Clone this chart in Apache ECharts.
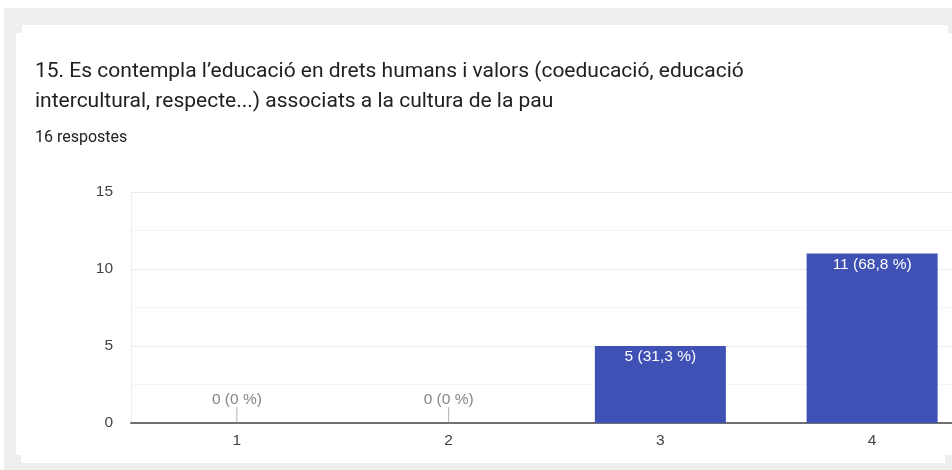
<!DOCTYPE html>
<html>
<head>
<meta charset="utf-8">
<script src="https://cdn.jsdelivr.net/npm/echarts@6/dist/echarts.min.js"></script>
<style>
  html, body { margin: 0; padding: 0; width: 952px; height: 470px; overflow: hidden; background: #ffffff; }
  .frame { position: absolute; left: 4px; top: 8px; right: 0; bottom: 0; background: #eeeeee; }
  .card { position: absolute; background: #ffffff; }
  #chart { position: absolute; left: 0; top: 0; width: 978px; height: 470px; }
</style>
</head>
<body>
<div class="frame"></div>
<div class="card" style="left:16px; top:33px; width:936px; height:422px;"></div>
<div class="card" style="left:22px; top:25px; width:926px; height:10px;"></div>
<div class="card" style="left:21px; top:453px; width:924px; height:10px;"></div>
<div id="chart"></div>
<script>
// Question text and response summary
const questionLines = [
  '15. Es contempla l\u2019educació en drets humans i valors (coeducació, educació',
  'intercultural, respecte...) associats a la cultura de la pau'
];
const responsesText = '16 respostes';

// Answer scale and counts
const categories = ['1', '2', '3', '4'];
const counts = [0, 0, 5, 11];
const percents = [0, 0, 31.3, 68.8];

// Y axis ticks
const yTicks = [0, 5, 10, 15];

const chartFont = 'Liberation Sans, Arial, sans-serif';

function pctText(p) {
  return (Number.isInteger(p) ? String(p) : p.toFixed(1).replace('.', ',')) + ' %';
}
function labelText(i) {
  return counts[i] + ' (' + pctText(percents[i]) + ')';
}

const chart = echarts.init(document.getElementById('chart'), null, { renderer: 'canvas' });

chart.setOption({
  backgroundColor: 'transparent',
  animation: false,
  textStyle: { fontFamily: chartFont },
  title: [
    {
      text: questionLines.join('\n'),
      left: 30,
      top: 52,
      textStyle: { fontFamily: 'Roboto', fontSize: 21, fontWeight: 'normal', color: '#202124', lineHeight: 29.5 }
    },
    {
      text: responsesText,
      left: 30,
      top: 124,
      textStyle: { fontFamily: 'Roboto', fontSize: 16, fontWeight: 'normal', color: '#202124', lineHeight: 18 }
    }
  ],
  grid: { left: 131, right: 0, top: 192, bottom: 47, containLabel: false },
  xAxis: {
    type: 'category',
    data: categories,
    axisLine: { show: true, lineStyle: { color: '#707070', width: 2 } },
    axisTick: { show: false },
    axisLabel: { color: '#444444', fontSize: 15.5, margin: 10, fontFamily: chartFont },
    splitLine: { show: false }
  },
  yAxis: {
    type: 'value',
    min: yTicks[0],
    max: yTicks[yTicks.length - 1],
    interval: yTicks[1] - yTicks[0],
    axisLine: { show: true, lineStyle: { color: '#eeeeee', width: 1 } },
    axisTick: { show: false },
    axisLabel: { color: '#444444', fontSize: 15.5, margin: 18, fontFamily: chartFont },
    splitLine: { show: true, lineStyle: { color: '#ebebeb', width: 1 } },
    minorTick: { show: false, splitNumber: 2 },
    minorSplitLine: { show: true, lineStyle: { color: '#f4f4f4', width: 1 } }
  },
  series: [
    {
      type: 'bar',
      barWidth: 131,
      data: counts.map((v, i) => ({
        value: v,
        label: {
          show: v > 0,
          position: 'insideTop',
          distance: 3,
          color: '#ffffff',
          fontSize: 15.5,
          fontFamily: chartFont,
          formatter: () => labelText(i)
        }
      })),
      itemStyle: { color: '#3f51b5' }
    },
    {
      // small stem marking categories with no answers
      type: 'scatter',
      symbol: 'rect',
      symbolSize: [1, 16],
      symbolOffset: [0, '-50%'],
      itemStyle: { color: '#9e9e9e' },
      data: counts.map((v) => (v === 0 ? v : '-')),
      label: {
        show: true,
        position: 'top',
        distance: -1,
        color: '#666666',
        fontSize: 15.5,
        fontFamily: chartFont,
        formatter: (p) => labelText(p.dataIndex)
      },
      z: 3
    }
  ]
});
</script>
</body>
</html>
